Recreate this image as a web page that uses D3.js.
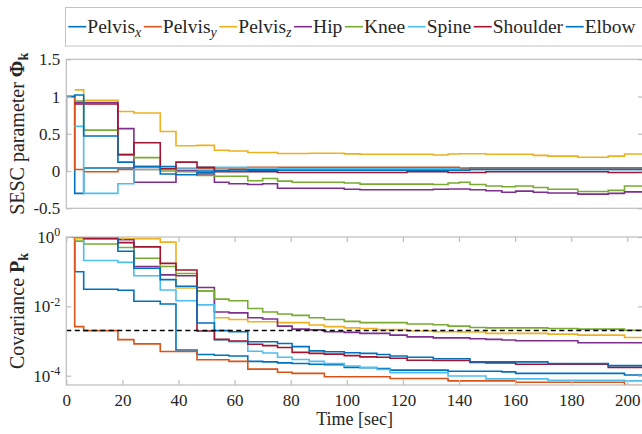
<!DOCTYPE html>
<html>
<head>
<meta charset="utf-8">
<script src="https://cdn.jsdelivr.net/npm/d3@7"></script>
<style>
  body { margin: 0; background: #fff; }
  svg { display: block; font-family: "Liberation Serif", "Times New Roman", serif; }
  svg text { font-family: "Liberation Serif", "Times New Roman", serif; }
</style>
</head>
<body>
<div id="chart"></div>
<script>
// joint names, subscripts and MATLAB colours
var names = ["Pelvis", "Pelvis", "Pelvis", "Hip", "Knee", "Spine", "Shoulder", "Elbow"];
var subs = ["x", "y", "z", null, null, null, null, null];
var colors = ["#0072BD", "#D95319", "#EDB120", "#7E2F8E", "#77AC30", "#4DBEEE", "#A2142F", "#0072BD"];

// update instants [sec]; each value holds from times[i] to times[i+1]
var times = [0, 3, 6.2, 18.4, 24.1, 33.5, 39.1, 46.6, 52.8, 58, 64.7, 70, 75.3, 80.5, 86.6, 92,
  99.1, 104.7, 110.7, 115.4, 121.5, 130.8, 136.1, 140.1, 143.9, 149.6, 155.3, 160.2, 166.5,
  171.7, 182.4, 193.2, 199, 205.6];

var xTicks = [0, 20, 40, 60, 80, 100, 120, 140, 160, 180, 200];
var phiTicks = [-0.5, 0, 0.5, 1, 1.5];
var covTicks = [1, 1e-2, 1e-4];
var covExp = ["0", "-2", "-4"];
var covThreshold = 2e-3;
var phiStart = 0;

/* SESC parameter Phi_k */
var phiPelvisX = [1.0, -0.3, 0.04, 0.04, 0.06, 0.06, 0.0, 0.0, 0.01, 0.02, 0.02, 0.02, 0.03, 0.03, 0.03, 0.03,
  0.03, 0.03, 0.03, 0.03, 0.03, 0.03, 0.03, 0.03, 0.04, 0.04, 0.04, 0.04, 0.04, 0.04, 0.04, 0.04, 0.04];
var phiPelvisY = [1.0, 0.02, -0.01, 0.02, 0.02, 0.03, 0.03, 0.03, 0.04, 0.04, 0.05, 0.05, 0.05, 0.05, 0.05, 0.05,
  0.05, 0.05, 0.05, 0.05, 0.05, 0.05, 0.05, 0.04, 0.04, 0.04, 0.04, 0.04, 0.04, 0.04, 0.04, 0.04, 0.04];
var phiPelvisZ = [null, 1.09, 0.95, 0.8, 0.78, 0.53, 0.34, 0.345, 0.28, 0.27, 0.25, 0.25, 0.235, 0.235, 0.238, 0.238,
  0.23, 0.225, 0.225, 0.225, 0.225, 0.215, 0.228, 0.233, 0.233, 0.225, 0.225, 0.225, 0.21, 0.2, 0.185, 0.2, 0.228];
var phiHip = [null, 0.92, 0.92, 0.57, -0.15, -0.15, 0.0, -0.04, -0.15, -0.17, -0.18, -0.17, -0.23, -0.23, -0.23, -0.23,
  -0.245, -0.25, -0.25, -0.25, -0.25, -0.245, -0.24, -0.24, -0.25, -0.265, -0.285, -0.27, -0.285, -0.295, -0.31, -0.3, -0.28];
var phiKnee = [null, 0.94, 0.55, 0.22, 0.18, 0.0, -0.01, -0.06, -0.07, -0.07, -0.13, -0.1, -0.135, -0.15, -0.15, -0.15,
  -0.16, -0.175, -0.175, -0.175, -0.175, -0.18, -0.16, -0.15, -0.18, -0.2, -0.21, -0.2, -0.22, -0.245, -0.275, -0.26, -0.2];
var phiSpine = [null, 0.6, -0.3, -0.17, 0.02, 0.03, 0.04, 0.05, 0.05, 0.05, 0.04, 0.04, 0.03, 0.03, 0.03, 0.03,
  0.03, 0.03, 0.03, 0.03, 0.03, 0.03, 0.03, 0.02, 0.02, 0.02, 0.02, 0.02, 0.02, 0.02, 0.02, 0.02, 0.02];
var phiShoulder = [null, 0.9, 0.9, 0.22, 0.38, 0.03, 0.12, 0.05, -0.01, -0.01, -0.01, -0.01, -0.02, -0.02, -0.02, -0.02,
  -0.02, -0.02, -0.02, -0.02, -0.01, -0.01, -0.02, -0.02, -0.02, -0.01, -0.01, -0.01, -0.01, -0.01, -0.01, -0.02, -0.02];
var phiElbow = [1.0, 1.02, 0.47, 0.12, 0.06, -0.04, -0.05, -0.02, 0.0, 0.0, 0.01, 0.01, 0.01, 0.01, 0.01, 0.01,
  0.01, 0.01, 0.01, 0.01, 0.01, 0.01, 0.01, 0.01, 0.02, 0.02, 0.02, 0.02, 0.02, 0.02, 0.02, 0.02, 0.02];

/* Covariance P_k */
var covPelvisX = [1, 0.1, 3.1e-2, 2.9e-2, 1.4e-2, 1.17e-2, 5.5e-4, 4.1e-4, 3.9e-4, 3.7e-4, 2.6e-4, 2.5e-4, 2.35e-4,
  2.24e-4, 2.14e-4, 2.09e-4, 1.74e-4, 1.7e-4, 1.62e-4, 1.45e-4, 1.45e-4, 1.45e-4, 1.35e-4, 1.35e-4, 1.35e-4,
  1.35e-4, 1.29e-4, 1.17e-4, 1.17e-4, 1.17e-4, 1.17e-4, 1.17e-4, 1.05e-4];
var covPelvisY = [1, 2.6e-3, 2.0e-3, 1.1e-3, 8.3e-4, 5.0e-4, 5.0e-4, 2.9e-4, 2.9e-4, 2.6e-4, 1.55e-4, 1.55e-4, 1.26e-4,
  1.17e-4, 1.17e-4, 9.3e-5, 9.3e-5, 9.3e-5, 9.3e-5, 8.3e-5, 8.3e-5, 8.3e-5, 7.1e-5, 7.1e-5, 7.1e-5, 7.1e-5, 7.1e-5,
  6.5e-5, 6.5e-5, 6.5e-5, 6.5e-5, 6.5e-5, 5.2e-5];
var covPelvisZ = [null, 0.89, 0.89, 0.89, 0.89, 0.71, 3.4e-2, 2.8e-2, 4.7e-3, 4.2e-3, 3.6e-3, 3.6e-3, 3.4e-3, 3.4e-3,
  2.9e-3, 2.6e-3, 2.4e-3, 2.3e-3, 2.14e-3, 2.14e-3, 1.95e-3, 1.86e-3, 1.86e-3, 1.82e-3, 1.82e-3, 1.66e-3, 1.66e-3,
  1.66e-3, 1.66e-3, 1.58e-3, 1.48e-3, 1.48e-3, 1.26e-3];
var covHip = [null, 1, 1, 0.83, 0.141, 8.1e-2, 7.6e-2, 3.5e-2, 6.9e-3, 6.5e-3, 4.7e-3, 4.3e-3, 2.7e-3, 2.2e-3, 2.1e-3,
  1.86e-3, 1.78e-3, 1.66e-3, 1.66e-3, 1.48e-3, 1.32e-3, 1.23e-3, 1.23e-3, 1.23e-3, 1.17e-3, 1.12e-3, 1.07e-3,
  1.02e-3, 1.02e-3, 1.02e-3, 8.9e-4, 8.9e-4, 8.9e-4];
var covKnee = [null, 0.76, 0.63, 0.5, 0.245, 0.141, 8.9e-2, 2.8e-2, 1.62e-2, 1.45e-2, 8.7e-3, 6.9e-3, 6.0e-3, 5.5e-3,
  4.7e-3, 4.2e-3, 3.7e-3, 3.4e-3, 3.4e-3, 3.4e-3, 3.1e-3, 2.95e-3, 2.7e-3, 2.7e-3, 2.45e-3, 2.4e-3, 2.4e-3, 2.4e-3,
  2.4e-3, 2.3e-3, 2.2e-3, 2.2e-3, 2.04e-3];
var covSpine = [null, 1, 0.21, 0.186, 7.6e-2, 2.95e-2, 1.45e-2, 1.1e-2, 1.07e-3, 9.5e-4, 5.1e-4, 4.5e-4, 3.4e-4,
  2.95e-4, 2.6e-4, 2.24e-4, 1.9e-4, 1.74e-4, 1.51e-4, 1.23e-4, 1.23e-4, 1.23e-4, 9.8e-5, 9.8e-5, 9.8e-5, 8.1e-5,
  8.1e-5, 8.1e-5, 8.1e-5, 7.4e-5, 7.4e-5, 7.4e-5, 7.1e-5];
var covShoulder = [null, 1, 0.89, 0.69, 0.52, 0.174, 0.112, 1.95e-3, 1.12e-3, 1.0e-3, 8.1e-4, 7.4e-4, 6.5e-4, 4.7e-4,
  4.4e-4, 4.2e-4, 3.8e-4, 3.5e-4, 3.4e-4, 3.2e-4, 2.8e-4, 2.75e-4, 2.75e-4, 2.75e-4, 2.4e-4, 2.34e-4, 2.34e-4,
  2.14e-4, 2.14e-4, 2.14e-4, 2.14e-4, 1.74e-4, 1.74e-4];
var covElbow = [1, 1, 1, 0.39, 0.126, 5.9e-2, 3.8e-2, 3.3e-3, 2.0e-3, 1.86e-3, 9.5e-4, 9.5e-4, 8.5e-4, 6.9e-4, 5.2e-4,
  4.9e-4, 4.6e-4, 4.4e-4, 4.1e-4, 3.7e-4, 3.4e-4, 3.1e-4, 3.1e-4, 3.1e-4, 2.5e-4, 2.5e-4, 2.5e-4, 2.5e-4, 2.5e-4,
  2.24e-4, 2.24e-4, 1.95e-4, 1.95e-4];

var phiSeries = [phiPelvisX, phiPelvisY, phiPelvisZ, phiHip, phiKnee, phiSpine, phiShoulder, phiElbow];
var covSeries = [covPelvisX, covPelvisY, covPelvisZ, covHip, covKnee, covSpine, covShoulder, covElbow];

var width = 642;
var height = 434;
var left = 66.3, right = 643;
var serif = "'Liberation Serif', 'Times New Roman', serif";
var boxColor = "#bdbdbd";
var textColor = "#262626";
var lineWidth = 1.6;

var svg = d3.select("#chart").append("svg")
  .attr("width", width)
  .attr("height", height);

/* Scales */
var x = d3.scaleLinear().domain([0, times[times.length - 1]]).range([left, right]);
var yPhi = d3.scaleLinear().domain([-0.5, 1.5]).range([208.3, 59.3]);
var yCov = d3.scaleLog().domain([5.4e-5, 1]).range([385, 237]);

function stepPoints(vals, start) {
  var pts = [];
  if (start !== undefined && vals[0] != null) pts.push([times[0], start]);
  vals.forEach(function(v, i) { pts.push([times[i], v]); });
  pts.push([times[times.length - 1], vals[vals.length - 1]]);
  return pts;
}

function panel(id, yScale, series, start) {
  var top = yScale.range()[1], bottom = yScale.range()[0];
  svg.append("clipPath").attr("id", id)
    .append("rect")
    .attr("x", left).attr("y", top)
    .attr("width", right - left).attr("height", bottom - top);

  var g = svg.append("g").attr("clip-path", "url(#" + id + ")");
  var line = d3.line()
    .defined(d => d[1] != null)
    .x(d => x(d[0]))
    .y(d => yScale(d[1]))
    .curve(d3.curveStepAfter);

  g.selectAll("path.series")
    .data(series).enter()
    .append("path")
    .attr("class", "series")
    .attr("d", d => line(stepPoints(d, start)))
    .attr("fill", "none")
    .attr("stroke", (d, i) => colors[i])
    .attr("stroke-width", lineWidth);

  // box
  svg.append("rect")
    .attr("x", left).attr("y", top)
    .attr("width", right - left).attr("height", bottom - top)
    .attr("fill", "none")
    .attr("stroke", boxColor)
    .attr("stroke-width", 1.2);
  return g;
}

function styleAxis(sel) {
  sel.attr("font-family", serif).attr("font-size", 17);
  sel.select(".domain").remove();
  sel.selectAll(".tick line").attr("stroke", boxColor).attr("stroke-width", 1.2);
  sel.selectAll(".tick text").attr("fill", textColor);
}

/* Top panel */
panel("clipPhi", yPhi, phiSeries, phiStart);

svg.append("g")
  .attr("transform", `translate(${left},0)`)
  .call(d3.axisLeft(yPhi).tickValues(phiTicks).tickSize(-5).tickPadding(6).tickFormat(d => String(d)))
  .call(styleAxis);
svg.append("g")
  .attr("transform", `translate(${right},0)`)
  .call(d3.axisRight(yPhi).tickValues(phiTicks).tickSize(-5).tickFormat(""))
  .call(styleAxis);

/* Bottom panel */
var gCov = panel("clipCov", yCov, covSeries);

gCov.append("line")
  .attr("x1", left).attr("x2", right)
  .attr("y1", yCov(covThreshold)).attr("y2", yCov(covThreshold))
  .attr("stroke", "#000")
  .attr("stroke-width", 1.5)
  .attr("stroke-dasharray", "5,3.5");

var covAxis = svg.append("g")
  .attr("transform", `translate(${left},0)`)
  .call(d3.axisLeft(yCov).tickValues(covTicks).tickSize(-5).tickPadding(6).tickFormat(""))
  .call(styleAxis);
covAxis.selectAll(".tick text")
  .each(function(d, i) {
    var t = d3.select(this);
    t.append("tspan").text("10");
    t.append("tspan").text(covExp[i])
      .attr("dy", "-0.55em")
      .attr("font-size", 12);
  });
svg.append("g")
  .attr("transform", `translate(${right},0)`)
  .call(d3.axisRight(yCov).tickValues(covTicks).tickSize(-5).tickFormat(""))
  .call(styleAxis);

svg.append("g")
  .attr("transform", `translate(0,${yCov.range()[0]})`)
  .call(d3.axisBottom(x).tickValues(xTicks).tickSize(-5).tickPadding(9).tickFormat(d => String(d)))
  .call(styleAxis);
svg.append("g")
  .attr("transform", `translate(0,${yCov.range()[1]})`)
  .call(d3.axisTop(x).tickValues(xTicks).tickSize(-5).tickFormat(""))
  .call(styleAxis);

/* Axis labels */
svg.append("text")
  .attr("x", (left + right) / 2)
  .attr("y", 425)
  .attr("text-anchor", "middle")
  .attr("fill", textColor)
  .attr("font-family", serif)
  .attr("font-size", 18)
  .text("Time [sec]");

var phiLabel = svg.append("text")
  .attr("transform", `translate(23.5,${(yPhi.range()[0] + yPhi.range()[1]) / 2}) rotate(-90)`)
  .attr("text-anchor", "middle")
  .attr("fill", textColor)
  .attr("font-family", serif)
  .attr("font-size", 20);
phiLabel.append("tspan").text("SESC parameter ");
phiLabel.append("tspan").text("\u03A6").attr("font-weight", "bold");
phiLabel.append("tspan").text("k").attr("font-weight", "bold").attr("font-size", 14).attr("dy", "0.3em");

var covLabel = svg.append("text")
  .attr("transform", `translate(23.5,${(yCov.range()[0] + yCov.range()[1]) / 2}) rotate(-90)`)
  .attr("text-anchor", "middle")
  .attr("fill", textColor)
  .attr("font-family", serif)
  .attr("font-size", 20);
covLabel.append("tspan").text("Covariance ");
covLabel.append("tspan").text("P").attr("font-weight", "bold");
covLabel.append("tspan").text("k").attr("font-weight", "bold").attr("font-size", 14).attr("dy", "0.3em");

/* Legend */
var legend = svg.append("g")
  .attr("font-family", serif)
  .attr("font-size", 19.5);
legend.append("rect")
  .attr("x", 65.5).attr("y", 7.5)
  .attr("width", 620).attr("height", 38.5)
  .attr("fill", "#fff")
  .attr("stroke", "#c4c4c4")
  .attr("stroke-width", 1);

var cursor = 68.3;
names.forEach(function(name, i) {
  legend.append("line")
    .attr("x1", cursor).attr("x2", cursor + 18)
    .attr("y1", 26.7).attr("y2", 26.7)
    .attr("stroke", colors[i])
    .attr("stroke-width", lineWidth);
  var t = legend.append("text")
    .attr("x", cursor + 19)
    .attr("y", 33.3)
    .attr("fill", textColor);
  t.append("tspan").text(name);
  if (subs[i]) {
    t.append("tspan").text(subs[i])
      .attr("dy", 4)
      .attr("font-style", "italic")
      .attr("font-size", 14);
  }
  cursor += 19 + t.node().getComputedTextLength() + 2.6;
});
</script>
</body>
</html>
